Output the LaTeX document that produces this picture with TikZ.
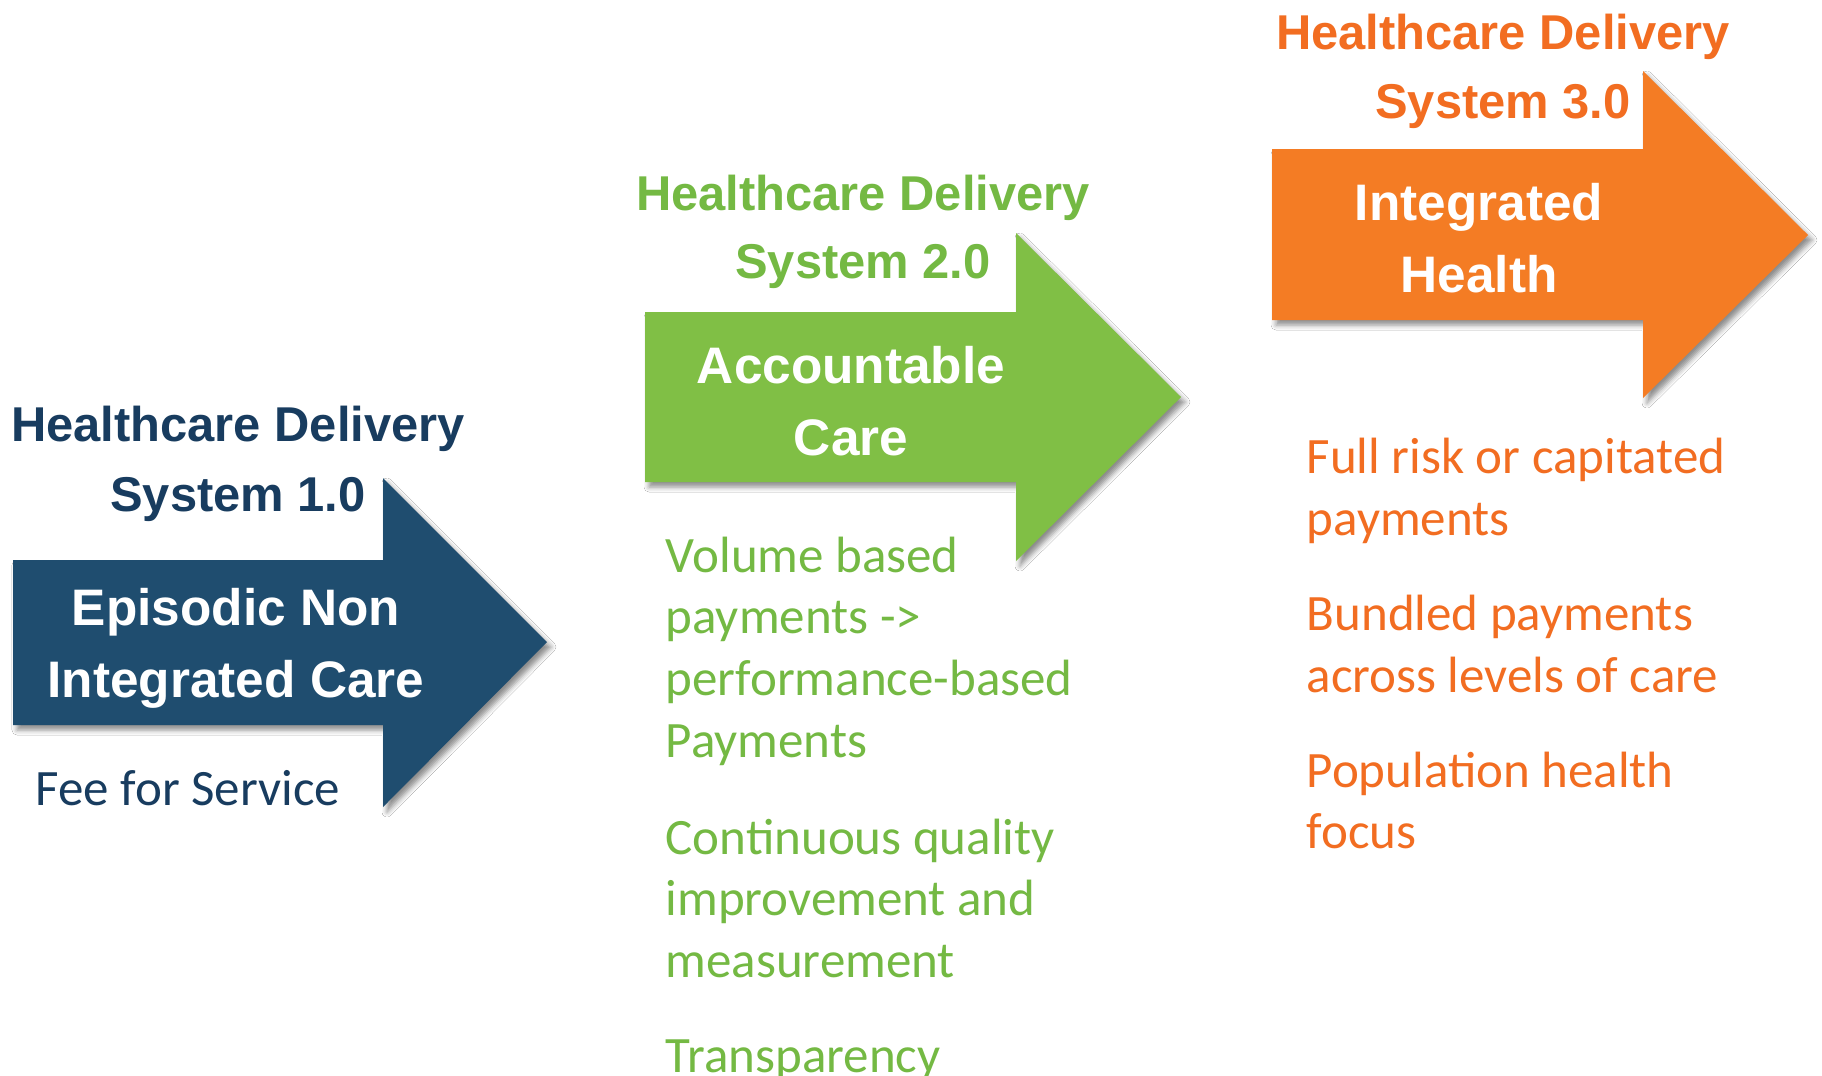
\documentclass[tikz,border=0pt]{standalone}
\usepackage{fontspec}
\setmainfont{Liberation Sans}
\newfontfamily\bodyfont{Carlito}
\usetikzlibrary{shadows.blur}
\definecolor{navyA}{HTML}{1F4D6F}
\definecolor{navyT}{HTML}{183C5F}
\definecolor{greenA}{HTML}{80BF45}
\definecolor{greenT}{HTML}{74B943}
\definecolor{orangeA}{HTML}{F47C24}
\definecolor{orangeT}{HTML}{F26D21}
\tikzset{
  arrowbody/.style={draw=none, blur shadow={shadow xshift=0.04cm, shadow yshift=-0.05cm, shadow blur radius=0.05cm, shadow opacity=45}},
  hdtext/.style={inner sep=0pt, anchor=base, font=\bfseries\fontsize{13.9}{16}\selectfont},
  intext/.style={inner sep=0pt, anchor=base, text=white, font=\bfseries\fontsize{14.6}{17}\selectfont},
  bodytext/.style={inner sep=0pt, anchor=base west, font=\bodyfont\fontsize{14.5}{17}\selectfont},
}
\begin{document}
\begin{tikzpicture}[x=0.01cm, y=-0.01cm]
\useasboundingbox (0,0) rectangle (1822,1075);
\fill[white] (0,0) rectangle (1822,1075);

% ---------- Arrow 1 ----------
\path[arrowbody, fill=navyA] (13,560) -- (383,560) -- (383,478) -- (547,642) -- (383,807) -- (383,725) -- (13,725) -- cycle;
\node[hdtext, text=navyT] (h1a) at (238,441) {Healthcare Delivery};
\node[hdtext, text=navyT] (h1b) at (238,511) {System 1.0};
\node[intext] (a1a) at (236,625) {Episodic Non};
\node[intext] (a1b) at (236,697) {Integrated Care};
\node[bodytext, text=navyT] (f1) at (35,805) {Fee for Service};

% ---------- Arrow 2 ----------
\path[arrowbody, fill=greenA] (645,312) -- (1016,312) -- (1016,233) -- (1181,397) -- (1016,561) -- (1016,482) -- (645,482) -- cycle;
\node[hdtext, text=greenT] (h2a) at (863,210) {Healthcare Delivery};
\node[hdtext, text=greenT] (h2b) at (863,278) {System 2.0};
\node[intext] (a2a) at (851,383) {Accountable};
\node[intext] (a2b) at (851,455) {Care};
\node[bodytext, text=greenT] (b2a) at (665,572) {Volume based};
\node[bodytext, text=greenT] (b2b) at (665,633) {payments -{}>};
\node[bodytext, text=greenT] (b2c) at (665,695) {performance-based};
\node[bodytext, text=greenT] (b2d) at (665,757) {Payments};
\node[bodytext, text=greenT] (b2e) at (665,854) {Continuous quality};
\node[bodytext, text=greenT] (b2f) at (665,915) {improvement and};
\node[bodytext, text=greenT] (b2g) at (665,977) {measurement};
\node[bodytext, text=greenT] (b2h) at (665,1072) {Transparency};

% ---------- Arrow 3 ----------
\path[arrowbody, fill=orangeA] (1272,149) -- (1643,149) -- (1643,71) -- (1808,235) -- (1643,398) -- (1643,320) -- (1272,320) -- cycle;
\node[hdtext, text=orangeT] (h3a) at (1503,49) {Healthcare Delivery};
\node[hdtext, text=orangeT] (h3b) at (1503,118) {System 3.0};
\node[intext] (a3a) at (1479,220) {Integrated};
\node[intext] (a3b) at (1479,292) {Health};
\node[bodytext, text=orangeT] (b3a) at (1306,473) {Full risk or capitated};
\node[bodytext, text=orangeT] (b3b) at (1306,535) {payments};
\node[bodytext, text=orangeT] (b3c) at (1306,630) {Bundled payments};
\node[bodytext, text=orangeT] (b3d) at (1306,692) {across levels of care};
\node[bodytext, text=orangeT] (b3e) at (1306,787) {Population health};
\node[bodytext, text=orangeT] (b3f) at (1306,848) {focus};
\end{tikzpicture}
\end{document}
